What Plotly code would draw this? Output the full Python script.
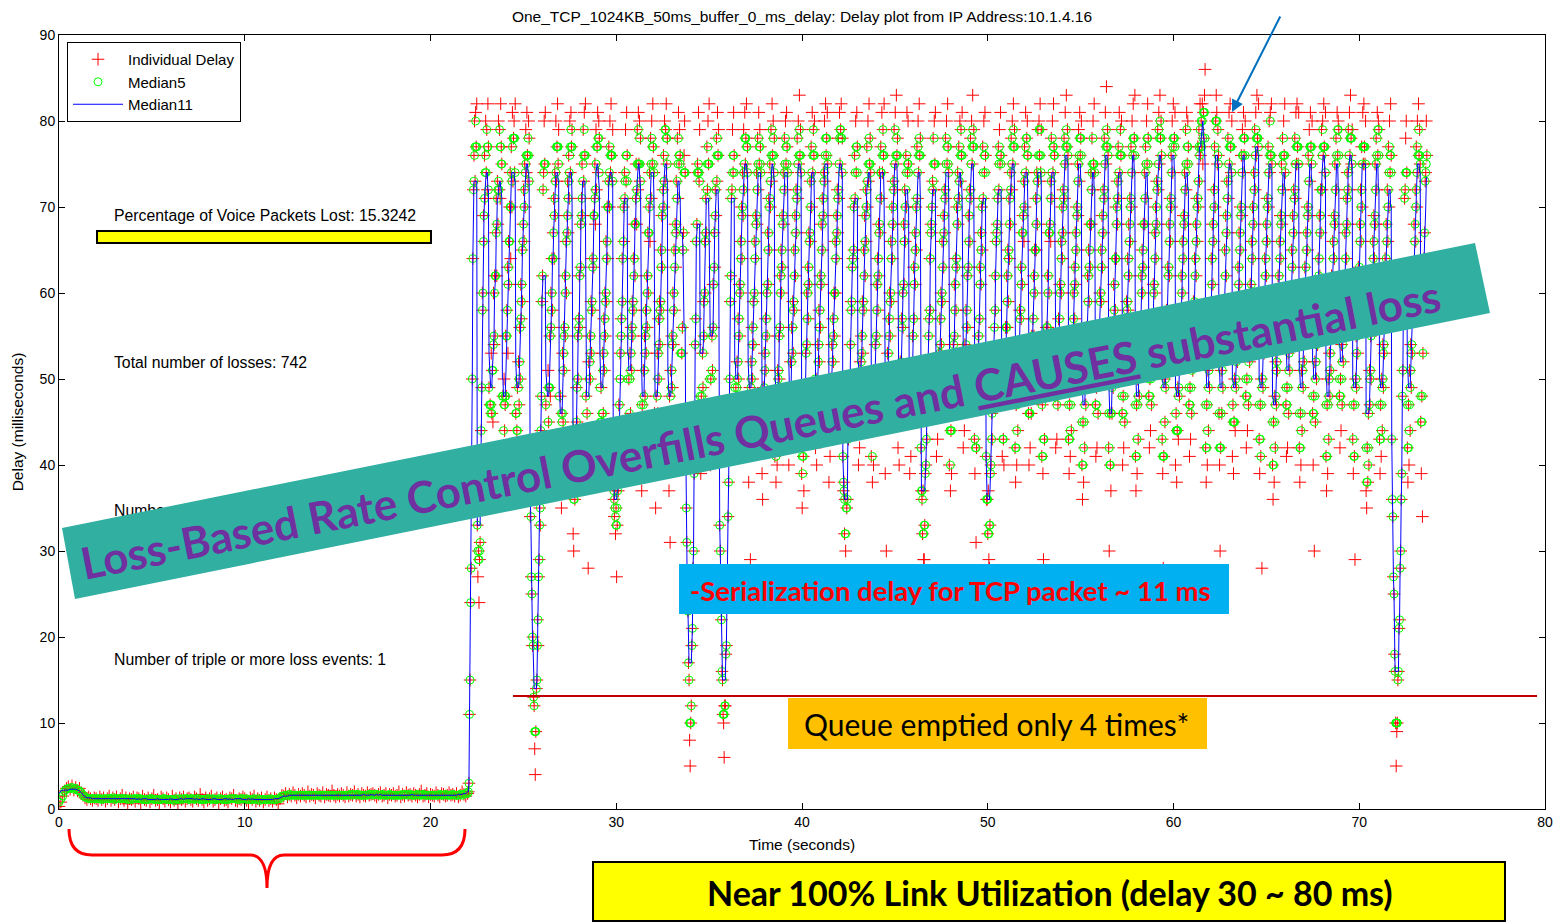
import numpy as np
import pandas as pd
import plotly.graph_objects as go

# ---------------------------------------------------------------------------
# Voice-packet one-way delay (ms)
# ---------------------------------------------------------------------------
# Start-up phase, before the TCP transfer: one reading every 0.1 s from t = 0
early_start_s, early_step_s = 0.0, 0.1
early_delay_rows = [
    "0.3 0.8 1.5 2.1 2.4 2.6 2.3 2.7 2.2 2.5 2.1 2.4 1.9 1.6 1.3 1.1 1.4 1.2 1.0 1.3",
    "1.2 1.0 1.4 1.1 1.3 0.9 1.2 1.5 1.0 1.3 1.1 1.4 0.8 1.2 1.6 1.0 1.3 0.6 1.2 1.1",
    "1.4 0.9 1.3 1.2 0.7 1.5 1.1 1.0 1.3 0.8 1.2 1.6 1.0 1.1 0.7 1.4 1.2 0.9 1.3 1.1",
    "0.8 1.5 1.0 1.2 0.6 1.3 1.1 1.4 0.9 1.2 1.3 1.1 0.9 1.4 1.2 1.0 1.7 1.1 0.8 1.3",
    "1.0 1.2 1.5 0.9 1.1 1.3 0.7 1.2 1.4 1.0 1.1 0.8 1.3 1.2 1.6 1.0 0.9 1.2 1.1 1.4",
    "1.2 1.0 0.7 1.3 1.1 1.5 0.9 1.2 1.0 1.3 0.8 1.1 1.4 1.0 1.2 0.9 1.3 1.1 0.6 1.2",
    "1.6 1.5 1.8 1.4 1.7 1.5 1.9 1.6 1.3 1.7 1.5 1.8 1.6 1.4 2.0 1.5 1.7 1.6 1.3 1.8",
    "1.6 1.5 1.9 1.4 1.7 1.6 1.5 2.1 1.6 1.4 1.7 1.5 1.8 1.6 1.4 1.9 1.5 1.7 1.6 2.0",
    "1.5 1.7 1.4 1.8 1.6 1.5 1.9 1.6 1.7 1.8 1.6 1.4 1.7 1.9 1.5 1.6 1.8 1.3 1.7 1.6",
    "1.8 1.5 1.6 2.0 1.4 1.7 1.5 1.9 1.6 1.7 1.5 1.8 1.6 1.4 1.7 2.1 1.5 1.6 1.8 1.4",
    "1.7 1.6 1.5 1.9 1.6 1.4 1.8 1.7 1.5 1.6 1.9 1.6 1.7 1.5 1.8 1.4 1.6 2.0 1.7 1.5",
    "1.8",
]

# Congested phase: one reading every 0.03 s, one row per queue fill/drain cycle
busy_start_s, busy_step_s = 22.04, 0.03
busy_delay_rows = [
    "2 3 11 15 24 28 41 50 64 72 76 80 73 81 77 82",
    "33 27 30 24 29 31 38 44 49 60 58 69 66 76 71 80 74 79 72 82 77",
    "49 40 47 38 53 46 51 45 60 54 62 55 67 71 62 73 68 80 72 79 71 82 77 75",
    "42 48 37 50 44 47 55 48 58 63 53 66 61 70 74 64 77 70 81 73 78 80 74 82",
    "46 39 44 49 41 52 47 56 50 61 57 65 59 68 72 66 75 70 79 74 81 76 73 80 78",
    "40 34 36 27 25 19 20 13 12 7 4 9 14 15 22 19 27 29 35 33 44 48 59 62 72 74 80 75 81",
    "47 41 43 38 51 45 49 55 48 60 56 64 58 67 71 64 74 69 80 73 77 82 75 79",
    "41 37 48 40 35 46 53 45 56 51 62 55 66 60 69 73 67 76 71 80 74 81 77 79",
    "38 32 30 41 36 44 39 49 45 55 50 57 62 56 68 63 71 75 69 79 73 81 76 82",
    "48 40 46 41 28 52 44 55 50 59 53 64 58 69 63 71 75 68 79 72 77 81 74 80 78",
    "43 38 49 45 40 53 46 57 51 60 55 66 59 70 64 73 77 70 80 74 82 76 73 79",
    "41 36 34 37 32 35 27 33 39 37 47 42 53 50 57 55 64 59 70 66 74 71 79 73 81 76",
    "45 40 50 43 53 46 56 51 59 55 64 58 68 62 71 75 68 79 72 81 75 80 73 78",
    "44 37 47 39 51 44 55 48 58 53 62 56 67 60 70 74 66 78 71 80 75 82 77 74",
    "46 41 35 48 42 53 46 57 50 59 54 65 58 69 63 72 76 70 80 73 79 82 75 78",
    "40 46 37 48 31 51 45 55 49 60 54 65 58 68 63 73 67 78 71 81 75 79 76",
    "44 41 53 56 65 67 76 80 74",
    "43 35 31 24 23 17 15 8 5 10 12 19 21 28 30 39 43 54 57 66 68 75 74 81 73 79",
    "45 39 48 42 53 49 59 55 66 60 71 67 77 72 80 75 82",
    "44 40 50 43 55 51 61 56 67 63 72 69 78 73 81 76 79",
    "41 33 30 25 22 16 15 11 10 6 12 12 18 19 24 27 34 38 47 50 59 62 71 72 79 74 81 76",
    "47 41 49 43 52 47 57 50 61 55 66 60 70 64 74 69 79 72 81 75 78 82 74 77",
    "42 38 46 49 29 52 46 56 50 59 54 66 60 69 64 74 68 78 72 81 75 79 77 74",
    "46 39 36 49 43 53 47 57 51 60 55 67 61 71 65 75 70 79 73 82 76 80 74 78",
    "41 47 38 45 40 51 48 55 50 62 56 65 60 69 63 74 68 78 72 80 75 81 77 74",
    "45 40 48 42 52 45 56 49 59 53 65 58 69 62 72 67 78 71 80 75 83 76 79 74",
    "39 35 46 41 37 49 45 53 48 60 54 63 57 67 61 73 66 77 70 81 74 79 76 80",
    "47 42 50 40 47 54 48 58 52 62 56 68 61 71 65 74 69 80 73 82 76 78 81 75",
    "43 38 48 41 50 44 54 48 57 52 60 55 66 60 69 64 72 67 78 71 81 75 79 82 74 78",
    "41 37 38 32 36 30 27 35 36 44 43 46 50 54 49 59 58 63 64 70 65 76 71 80 74 81 77",
    "46 40 49 42 52 46 55 50 59 53 65 58 69 62 72 66 77 70 80 73 82 75 78 74",
    "41 48 38 45 40 51 46 54 49 61 55 64 58 68 62 74 67 77 71 81 74 79 76 82",
    "47 39 49 30 45 53 47 57 51 60 55 66 59 70 64 73 68 79 72 81 75 83 76 78",
    "42 48 40 47 52 46 57 51 60 56 68 61 72 66 76 70 81 74 80 75",
    "45 39 47 41 51 47 55 50 63 57 67 61 70 65 77 71 80 74 82 76 78",
    "42 37 36 32 37 29 29 33 39 40 47 43 52 51 55 57 64 58 68 67 70 73 78 72 80 75 81",
    "46 41 50 43 48 53 47 57 51 60 54 66 59 69 63 72 67 78 71 80 75 82 77 74",
    "40 47 37 44 39 50 46 54 49 61 55 64 58 70 63 74 68 77 71 80 73 79 76 81",
    "48 42 50 44 54 48 58 52 62 56 69 63 72 66 78 71 80 75 83 77 79",
    "43 39 47 31 42 51 47 55 50 63 57 67 61 70 65 77 71 80 74 81 76",
    "41 36 36 32 37 29 28 33 39 40 46 43 50 52 53 56 62 58 66 67 68 71 77 72 79 75 81 76",
    "47 41 49 43 40 52 47 56 50 62 56 65 59 71 64 74 68 78 72 80 75 82 77 79",
    "42 38 47 40 50 44 54 50 58 53 63 57 67 61 69 73 66 77 70 81 74 78 80 76",
    "46 40 48 42 52 46 55 50 57 62 55 65 60 71 65 74 68 79 73 80 76 82 74 79",
    "41 47 39 29 49 43 53 48 56 51 62 56 67 60 68 73 66 78 71 80 74 82 77 76",
    "48 42 50 43 54 47 57 51 61 55 66 60 70 64 72 67 78 71 81 75 83 77 79 76",
    "43 39 47 41 51 44 55 49 60 53 63 57 67 61 70 65 75 69 79 73 81 76 78 80",
    "40 36 45 38 49 42 52 47 56 51 62 55 65 59 68 63 74 68 78 72 80 75 82 74",
    "47 41 49 42 53 46 56 51 60 55 65 59 69 63 72 67 78 71 81 75 84 77 79 76",
    "42 30 46 40 37 50 46 54 49 61 55 64 58 70 64 73 68 77 71 81 74 79 76 80",
    "46 40 48 42 52 45 55 50 59 54 64 58 68 62 71 66 77 70 80 74 82 76 78 83",
    "41 37 47 39 50 43 53 48 57 51 62 56 65 60 68 63 74 68 77 71 80 75 82 78",
    "48 42 50 44 54 47 57 52 61 55 67 60 70 64 73 68 79 72 81 75 83 78 80 76",
    "43 39 28 41 50 45 55 49 58 53 63 57 68 62 71 66 76 70 80 74 82 77 78 81",
    "40 46 38 44 49 43 53 48 57 52 62 56 66 60 69 64 74 68 79 72 81 75 80 77",
    "47 41 49 43 53 46 56 51 59 54 64 58 68 62 71 66 77 70 79 73 82 76 80 77 82 75 81 78 83 86",
    "42 38 47 40 51 44 54 49 58 52 64 57 68 61 72 66 77 70 80 83 81 75 79 76",
    "46 40 30 42 51 46 55 49 59 53 65 58 69 62 73 67 78 71 81 75 82 77 74 80",
    "41 47 39 45 50 44 54 49 58 52 63 57 67 61 70 65 76 69 79 74 81 76 78 80",
    "48 42 50 44 54 47 57 52 61 55 66 60 70 64 74 68 79 72 81 76 83 78 77 82",
    "43 39 47 41 50 28 55 49 59 53 64 58 68 62 71 66 77 70 80 74 81 76 82 75",
    "40 36 45 38 48 42 52 47 56 51 62 55 66 60 69 64 75 68 78 72 80 76 82 74",
    "47 41 49 42 53 46 56 51 60 55 65 59 69 63 72 67 78 71 81 75 82 77 75 81",
    "42 38 46 40 51 44 54 49 58 52 63 57 67 61 70 65 76 69 79 73 81 77 75 80",
    "46 40 48 30 52 45 55 50 59 54 64 58 69 62 72 67 79 72 80 76 82 77 74 81",
    "41 37 47 39 50 43 53 48 57 51 62 56 66 60 69 64 75 68 78 72 81 76 80 79",
    "48 42 50 44 54 47 57 52 61 55 67 60 71 64 74 68 79 72 81 76 83 78 75 79",
    "43 39 47 41 29 50 55 49 59 53 63 57 68 62 72 66 77 70 81 75 82 77 75 80",
    "37 35 42 38 46 40 51 47 55 50 62 56 66 60 69 64 75 68 78 72 81 76 80 79",
    "43 39 47 41 50 44 54 49 58 53 64 58 68 62 72 66 77 70 80 74 82 76",
    "43 36 34 27 25 18 16 10 5 9 10 15 16 21 22 28 30 36 39 48 51 60 63 71 72 78 80 74",
    "42 38 47 40 51 44 54 49 58 53 63 57 68 61 72 66 77 70 80 74 82 76 79 75",
    "45 39 48 34 53 57 64 67 73 74 80 76",
]

# Statistics printed on the figure
info_x_s = 2.96
info_y_ms = [68.8, 51.7, 34.5, 17.2]
info_text = [
    "Percentage of Voice Packets Lost: 15.3242",
    "Total number of losses: 742",
    "Number of double loss events:",
    "Number of triple or more loss events: 1",
]

# ---------------------------------------------------------------------------
early_delay_ms = [float(v) for row in early_delay_rows for v in row.split()]
busy_delay_ms = [float(v) for row in busy_delay_rows for v in row.split()]
t_early = early_start_s + early_step_s * np.arange(len(early_delay_ms))
t_busy = busy_start_s + busy_step_s * np.arange(len(busy_delay_ms))

df = pd.DataFrame({
    "t": np.concatenate([t_early, t_busy]),
    "delay": np.concatenate([early_delay_ms, busy_delay_ms]),
})
df["median5"] = df["delay"].rolling(5, center=True, min_periods=1).median()
df["median11"] = df["delay"].rolling(11, center=True, min_periods=1).median()

# page geometry of the axes box (pixels)
W, H = 1557, 923
L, R, T, B = 59, 1545, 35, 809


def px(x):
    return (x - L) / (R - L)


def py(y):
    return (B - y) / (B - T)


MATLAB_FONT = "Liberation Sans"
SLIDE_FONT = "Lato"

fig = go.Figure()
fig.add_trace(go.Scatter(
    x=df["t"], y=df["delay"], mode="markers", name="Individual Delay",
    legendgroup="g1",
    marker=dict(symbol="cross-thin", size=9, color="#ff0000",
                line=dict(color="#ff0000", width=1)),
))
fig.add_trace(go.Scatter(
    x=df["t"], y=df["median5"], mode="markers", name="Median5",
    legendgroup="g2",
    marker=dict(symbol="circle-open", size=8, color="#00ff00",
                line=dict(color="#00ff00", width=1)),
))
fig.add_trace(go.Scatter(
    x=df["t"], y=df["median11"], mode="lines", name="Median11",
    legendgroup="g3",
    line=dict(color="#0000ff", width=1),
))
fig.add_trace(go.Scatter(
    x=[info_x_s] * len(info_text), y=info_y_ms, text=info_text,
    mode="text", textposition="middle right", showlegend=False,
    textfont=dict(family=MATLAB_FONT, size=15.8, color="#000000"),
    hoverinfo="skip",
))

shapes = []
annotations = []

# yellow highlight under the loss percentage
shapes.append(dict(type="rect", xref="paper", yref="paper", layer="above",
                   x0=px(97), x1=px(431), y0=py(243), y1=py(231),
                   fillcolor="#ffff00", line=dict(color="#000000", width=2)))

# queue-empty threshold
shapes.append(dict(type="line", xref="paper", yref="paper", layer="above",
                   x0=px(513), x1=px(1537), y0=py(696), y1=py(696),
                   line=dict(color="#c00000", width=2)))

# serialization call-out
shapes.append(dict(type="rect", xref="paper", yref="paper", layer="above",
                   x0=px(679), x1=px(1229), y0=py(614), y1=py(564),
                   fillcolor="#00b0f0", line=dict(width=0)))
annotations.append(dict(xref="paper", yref="paper", x=px(950), y=py(590),
                        text="<b>-Serialization delay for TCP packet ~ 11 ms</b>",
                        showarrow=False, xanchor="center", yanchor="middle",
                        font=dict(family=SLIDE_FONT, size=27.5, color="#ff0000")))

# queue-emptied call-out
shapes.append(dict(type="rect", xref="paper", yref="paper", layer="above",
                   x0=px(788), x1=px(1207), y0=py(749), y1=py(698),
                   fillcolor="#ffc000", line=dict(width=0)))
annotations.append(dict(xref="paper", yref="paper", x=px(996), y=py(724),
                        text="Queue emptied only 4 times*",
                        showarrow=False, xanchor="center", yanchor="middle",
                        font=dict(family=SLIDE_FONT, size=30, color="#000000")))

# diagonal banner
banner = [(62, 528), (1475, 243), (1490, 313), (75, 599)]
path = "M " + " L ".join(f"{px(x):.5f},{py(y):.5f}" for x, y in banner) + " Z"
shapes.append(dict(type="path", xref="paper", yref="paper", layer="above",
                   path=path, fillcolor="#31afa0", line=dict(width=0)))
annotations.append(dict(xref="paper", yref="paper", x=px(760), y=py(429),
                        text="<b>Loss-Based Rate Control Overfills Queues and "
                             "<u>CAUSES</u> substantial loss</b>",
                        textangle=-11.2, showarrow=False,
                        xanchor="center", yanchor="middle",
                        font=dict(family=SLIDE_FONT, size=44, color="#7030a0")))

# bottom utilisation call-out
shapes.append(dict(type="rect", xref="paper", yref="paper", layer="above",
                   x0=px(593), x1=px(1505), y0=py(921), y1=py(862),
                   fillcolor="#ffff00", line=dict(color="#000000", width=2)))
annotations.append(dict(xref="paper", yref="paper", x=px(1050), y=py(892),
                        text="<b>Near 100% Link Utilization (delay 30 ~ 80 ms)</b>",
                        showarrow=False, xanchor="center", yanchor="middle",
                        font=dict(family=SLIDE_FONT, size=34, color="#000000")))

# curly brace under the start-up phase
brace = (f"M {px(69)},{py(829)} "
         f"Q {px(69)},{py(855)} {px(92)},{py(855)} "
         f"L {px(250)},{py(855)} "
         f"Q {px(267)},{py(855)} {px(267)},{py(888)} "
         f"Q {px(267)},{py(855)} {px(284)},{py(855)} "
         f"L {px(442)},{py(855)} "
         f"Q {px(465)},{py(855)} {px(465)},{py(829)}")
shapes.append(dict(type="path", xref="paper", yref="paper", layer="above",
                   path=brace, line=dict(color="#ff0000", width=3)))

# arrow pointing at the highest samples
annotations.append(dict(xref="paper", yref="paper", x=px(1232), y=py(112),
                        ax=49, ay=-97, text="", showarrow=True,
                        arrowhead=2, arrowsize=1.2, arrowwidth=2,
                        arrowcolor="#0070c0"))

axis_common = dict(
    showline=True, linecolor="#000000", linewidth=1, mirror="ticks",
    ticks="inside", ticklen=6, tickcolor="#000000", showgrid=False,
    zeroline=False, tickfont=dict(family=MATLAB_FONT, size=14, color="#000000"),
)

fig.update_layout(
    width=W, height=H, autosize=False,
    margin=dict(l=L, r=W - R, t=T, b=H - B, pad=0),
    paper_bgcolor="#ffffff", plot_bgcolor="#ffffff",
    font=dict(family=MATLAB_FONT, size=14, color="#000000"),
    title=dict(text="One_TCP_1024KB_50ms_buffer_0_ms_delay: Delay plot from IP Address:10.1.4.16",
               x=px(802), xref="paper", xanchor="center",
               y=1 - 17 / H, yref="container", yanchor="middle",
               font=dict(family=MATLAB_FONT, size=15.5, color="#000000")),
    xaxis=dict(range=[0, 80], tick0=0, dtick=10,
               title=dict(text="Time (seconds)", standoff=10,
                          font=dict(family=MATLAB_FONT, size=15.5)),
               automargin=False, **axis_common),
    yaxis=dict(range=[0, 90], tick0=0, dtick=10,
               title=dict(text="Delay (milliseconds)", standoff=12,
                          font=dict(family=MATLAB_FONT, size=15.5)),
               automargin=False, **axis_common),
    legend=dict(x=px(67), y=py(42), xanchor="left", yanchor="top",
                bgcolor="#ffffff", bordercolor="#000000", borderwidth=1,
                font=dict(family=MATLAB_FONT, size=15, color="#000000"),
                itemwidth=50, tracegroupgap=0),
    shapes=shapes,
    annotations=annotations,
    showlegend=True,
)

fig.write_html("out.html")
